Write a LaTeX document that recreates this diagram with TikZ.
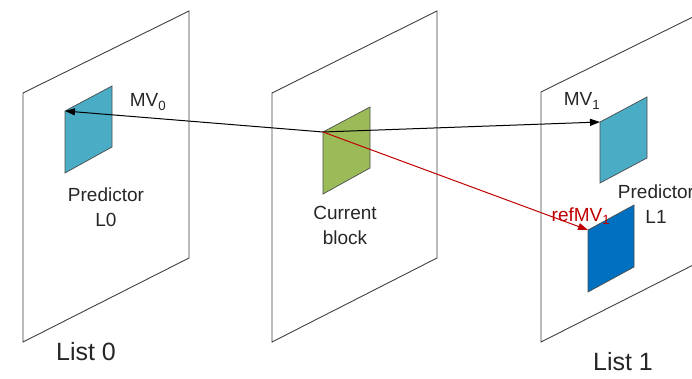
\documentclass[tikz,border=0pt]{standalone}
\usepackage{fontspec}
\setmainfont{Liberation Sans}
\usetikzlibrary{arrows.meta}
\definecolor{aqua}{HTML}{4BACC6}
\definecolor{olive}{HTML}{9BBB59}
\definecolor{deepblue}{HTML}{0070C0}
\definecolor{darkred}{HTML}{C00000}
\begin{document}
\begin{tikzpicture}[x=1pt, y=-1pt,
    frame/.style={draw=black!75, line width=0.9pt},
    blk/.style={draw=black!70, line width=0.7pt},
    lbl/.style={font=\fontsize{19}{25}\selectfont, align=center, text=black!85},
    lst/.style={font=\fontsize{25}{30}\selectfont, text=black!85},
    mv/.style={-{Triangle[length=10pt,width=7pt]}, line width=1pt},
  ]
    \useasboundingbox (0,0) rectangle (692,379);
    \clip (0,0) rectangle (692,379);

    % reference pictures
    \draw[frame] (23,93)  -- (189,11) -- (189,258) -- (23,342)  -- cycle;
    \draw[frame] (272,93) -- (437,11) -- (437,258) -- (272,342) -- cycle;
    \draw[frame] (541,92) -- (707,10) -- (707,258) -- (541,342) -- cycle;

    % blocks
    \filldraw[blk, fill=aqua]     (65,111)  coordinate (pl0) -- (112,86)  -- (112,147) -- (65,173)  -- cycle;
    \filldraw[blk, fill=olive]    (323,132) coordinate (cur) -- (370,107) -- (370,168) -- (323,194) -- cycle;
    \filldraw[blk, fill=aqua]     (600,122) coordinate (pl1) -- (647,97)  -- (647,158) -- (600,183) -- cycle;
    \filldraw[blk, fill=deepblue] (588,230) coordinate (rl1) -- (634,205) -- (634,267) -- (588,292) -- cycle;

    % motion vectors
    \draw[mv] (cur) -- (pl0);
    \draw[mv] (cur) -- (pl1);
    \draw[mv, darkred] (cur) -- (rl1);

    \node[lbl] (mv0)  at (148,102) {MV\textsubscript{0}};
    \node[lbl] (mv1)  at (582,101) {MV\textsubscript{1}};
    \node[lbl, text=darkred] (rmv1) at (581,216) {refMV\textsubscript{1}};

    \node[lbl] (predl0) at (106,207) {Predictor\\L0};
    \node[lbl] (curblk) at (345,225) {Current\\block};
    \node[lbl] (predl1) at (656,204) {Predictor\\L1};

    \node[lst] (list0) at (86,352)  {List 0};
    \node[lst] (list1) at (623,362) {List 1};
\end{tikzpicture}
\end{document}
